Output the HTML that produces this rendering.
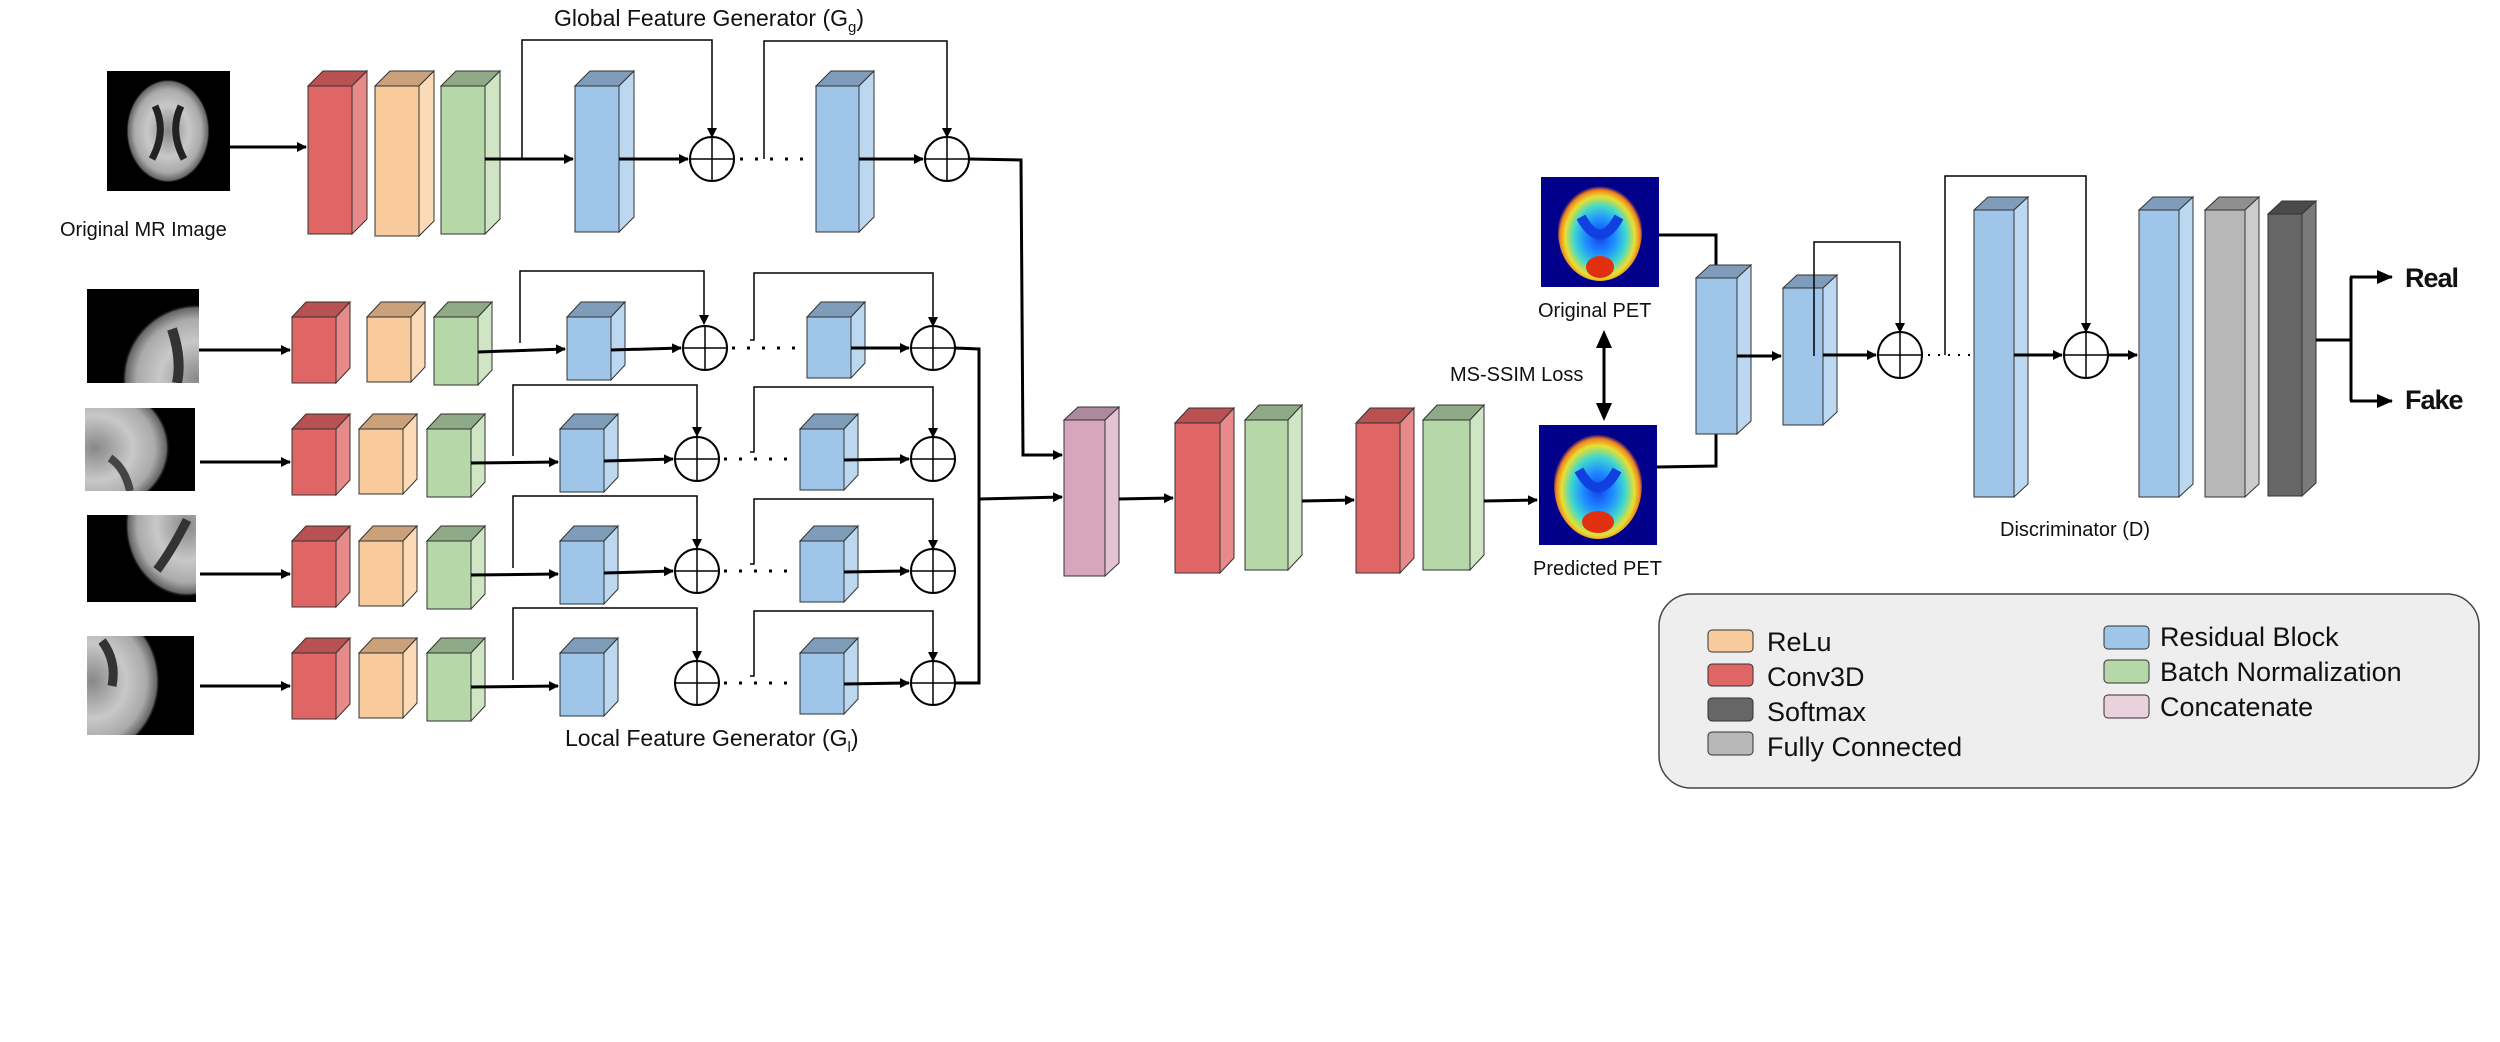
<!DOCTYPE html>
<html><head><meta charset="utf-8"><style>
html,body{margin:0;padding:0;background:#fff}
svg{display:block}
text{font-family:"Liberation Sans",sans-serif;fill:#111}
</style></head><body>
<svg width="2500" height="1042" viewBox="0 0 2500 1042" xmlns="http://www.w3.org/2000/svg">
<defs>
<marker id="ah" markerWidth="10" markerHeight="10" refX="9" refY="5" orient="auto" markerUnits="userSpaceOnUse"><path d="M0,0 L10,5 L0,10 z" fill="#000"/></marker>
<marker id="ahb" markerWidth="16" markerHeight="14" refX="15" refY="7" orient="auto" markerUnits="userSpaceOnUse"><path d="M0,0 L16,7 L0,14 z" fill="#000"/></marker>
<radialGradient id="mr" cx="50%" cy="50%" r="50%"><stop offset="0" stop-color="#888"/><stop offset="0.5" stop-color="#c8c8c8"/><stop offset="0.8" stop-color="#aaa"/><stop offset="0.95" stop-color="#666"/><stop offset="1" stop-color="#000" stop-opacity="0"/></radialGradient>
<radialGradient id="pet" cx="50%" cy="55%" r="52%"><stop offset="0" stop-color="#1040f0"/><stop offset="0.35" stop-color="#2090ff"/><stop offset="0.6" stop-color="#40d8d0"/><stop offset="0.8" stop-color="#e8e030"/><stop offset="0.92" stop-color="#f08020"/><stop offset="1" stop-color="#00008a"/></radialGradient>
</defs>

<!-- ===== GLOBAL ROW ===== -->
<text x="554" y="26" font-size="23">Global  Feature Generator (G<tspan font-size="15" dy="6">g</tspan><tspan dy="-6">)</tspan></text>
<svg x="107" y="71" width="123" height="120"><rect width="123" height="120" fill="#000"/>
<ellipse cx="61" cy="60" rx="42" ry="52" fill="url(#mr)"/>
<path d="M48,35 Q60,60 45,88 M74,35 Q62,60 77,88" stroke="#222" stroke-width="7" fill="none"/></svg>
<text x="60" y="236" font-size="20">Original MR Image</text>
<line x1="230" y1="147" x2="306" y2="147" stroke="#000" stroke-width="3" marker-end="url(#ah)"/>

<g stroke="#333" stroke-width="1">
<polygon points="308,86 323,71 367,71 352,86" fill="#b85252"/><polygon points="352,86 367,71 367,219 352,234" fill="#e88a8a"/><rect x="308" y="86" width="44" height="148" fill="#e06666"/>
<polygon points="375,86 390,71 434,71 419,86" fill="#c9a27c"/><polygon points="419,86 434,71 434,221 419,236" fill="#fbdab8"/><rect x="375" y="86" width="44" height="150" fill="#f9cb9c"/>
<polygon points="441,86 456,71 500,71 485,86" fill="#8faa86"/><polygon points="485,86 500,71 500,219 485,234" fill="#cfe5c4"/><rect x="441" y="86" width="44" height="148" fill="#b6d7a8"/>
<polygon points="575,86 590,71 634,71 619,86" fill="#7f9dbb"/><polygon points="619,86 634,71 634,217 619,232" fill="#bcd7f0"/><rect x="575" y="86" width="44" height="146" fill="#9fc5e8"/>
<polygon points="816,86 831,71 874,71 859,86" fill="#7f9dbb"/><polygon points="859,86 874,71 874,217 859,232" fill="#bcd7f0"/><rect x="816" y="86" width="43" height="146" fill="#9fc5e8"/>
</g>
<g stroke="#000" fill="none">
<line x1="485" y1="159" x2="573" y2="159" stroke-width="3" marker-end="url(#ah)"/>
<polyline points="522,159 522,40 712,40 712,137" stroke-width="1.5" marker-end="url(#ah)"/>
<line x1="619" y1="159" x2="688" y2="159" stroke-width="3" marker-end="url(#ah)"/>
<circle cx="712" cy="159" r="22" stroke-width="2" fill="#fff"/><path d="M690,159 H734 M712,137 V181" stroke-width="1.5"/>
<line x1="740" y1="159" x2="814" y2="159" stroke-width="3" stroke-dasharray="3,12"/>
<polyline points="764,159 764,41 947,41 947,137" stroke-width="1.5" marker-end="url(#ah)"/>
<line x1="859" y1="159" x2="923" y2="159" stroke-width="3" marker-end="url(#ah)"/>
<circle cx="947" cy="159" r="22" stroke-width="2" fill="#fff"/><path d="M925,159 H969 M947,137 V181" stroke-width="1.5"/>
<polyline points="969,159 1021,160 1023,455 1062,455" stroke-width="3" marker-end="url(#ah)"/>
</g>

<!-- ===== LOCAL ROWS images (clipped) ===== -->
<svg x="87" y="289" width="112" height="94"><rect width="112" height="94" fill="#000"/><ellipse cx="110" cy="90" rx="75" ry="75" fill="url(#mr)"/><path d="M85,40 Q95,70 90,94" stroke="#333" stroke-width="10" fill="none"/></svg>
<svg x="85" y="408" width="110" height="83"><rect width="110" height="83" fill="#000"/><ellipse cx="10" cy="40" rx="75" ry="65" fill="url(#mr)"/><path d="M25,50 Q40,60 45,83" stroke="#444" stroke-width="8" fill="none"/></svg>
<svg x="87" y="515" width="109" height="87"><rect width="109" height="87" fill="#000"/><ellipse cx="100" cy="10" rx="62" ry="72" fill="url(#mr)"/><path d="M100,5 Q85,35 70,55" stroke="#333" stroke-width="9" fill="none"/></svg>
<svg x="87" y="636" width="107" height="99"><rect width="107" height="99" fill="#000"/><ellipse cx="5" cy="45" rx="68" ry="75" fill="url(#mr)"/><path d="M15,5 Q30,25 25,50" stroke="#333" stroke-width="9" fill="none"/></svg>

<g stroke="#333" stroke-width="1">
<polygon points="292,317 306,302 350,302 336,317" fill="#b85252"/><polygon points="336,317 350,302 350,368 336,383" fill="#e88a8a"/><rect x="292" y="317" width="44" height="66" fill="#e06666"/>
<polygon points="367,317 381,302 425,302 411,317" fill="#c9a27c"/><polygon points="411,317 425,302 425,367 411,382" fill="#fbdab8"/><rect x="367" y="317" width="44" height="65" fill="#f9cb9c"/>
<polygon points="434,317 448,302 492,302 478,317" fill="#8faa86"/><polygon points="478,317 492,302 492,370 478,385" fill="#cfe5c4"/><rect x="434" y="317" width="44" height="68" fill="#b6d7a8"/>
<polygon points="567,317 581,302 625,302 611,317" fill="#7f9dbb"/><polygon points="611,317 625,302 625,365 611,380" fill="#bcd7f0"/><rect x="567" y="317" width="44" height="63" fill="#9fc5e8"/>
<polygon points="807,317 821,302 865,302 851,317" fill="#7f9dbb"/><polygon points="851,317 865,302 865,363 851,378" fill="#bcd7f0"/><rect x="807" y="317" width="44" height="61" fill="#9fc5e8"/>
</g>
<g stroke="#333" stroke-width="1">
<polygon points="292,429 306,414 350,414 336,429" fill="#b85252"/><polygon points="336,429 350,414 350,480 336,495" fill="#e88a8a"/><rect x="292" y="429" width="44" height="66" fill="#e06666"/>
<polygon points="359,429 373,414 417,414 403,429" fill="#c9a27c"/><polygon points="403,429 417,414 417,479 403,494" fill="#fbdab8"/><rect x="359" y="429" width="44" height="65" fill="#f9cb9c"/>
<polygon points="427,429 441,414 485,414 471,429" fill="#8faa86"/><polygon points="471,429 485,414 485,482 471,497" fill="#cfe5c4"/><rect x="427" y="429" width="44" height="68" fill="#b6d7a8"/>
<polygon points="560,429 574,414 618,414 604,429" fill="#7f9dbb"/><polygon points="604,429 618,414 618,477 604,492" fill="#bcd7f0"/><rect x="560" y="429" width="44" height="63" fill="#9fc5e8"/>
<polygon points="800,429 814,414 858,414 844,429" fill="#7f9dbb"/><polygon points="844,429 858,414 858,475 844,490" fill="#bcd7f0"/><rect x="800" y="429" width="44" height="61" fill="#9fc5e8"/>
</g>
<g stroke="#333" stroke-width="1" transform="translate(0,112)">
<polygon points="292,429 306,414 350,414 336,429" fill="#b85252"/><polygon points="336,429 350,414 350,480 336,495" fill="#e88a8a"/><rect x="292" y="429" width="44" height="66" fill="#e06666"/>
<polygon points="359,429 373,414 417,414 403,429" fill="#c9a27c"/><polygon points="403,429 417,414 417,479 403,494" fill="#fbdab8"/><rect x="359" y="429" width="44" height="65" fill="#f9cb9c"/>
<polygon points="427,429 441,414 485,414 471,429" fill="#8faa86"/><polygon points="471,429 485,414 485,482 471,497" fill="#cfe5c4"/><rect x="427" y="429" width="44" height="68" fill="#b6d7a8"/>
<polygon points="560,429 574,414 618,414 604,429" fill="#7f9dbb"/><polygon points="604,429 618,414 618,477 604,492" fill="#bcd7f0"/><rect x="560" y="429" width="44" height="63" fill="#9fc5e8"/>
<polygon points="800,429 814,414 858,414 844,429" fill="#7f9dbb"/><polygon points="844,429 858,414 858,475 844,490" fill="#bcd7f0"/><rect x="800" y="429" width="44" height="61" fill="#9fc5e8"/>
</g>
<g stroke="#333" stroke-width="1" transform="translate(0,224)">
<polygon points="292,429 306,414 350,414 336,429" fill="#b85252"/><polygon points="336,429 350,414 350,480 336,495" fill="#e88a8a"/><rect x="292" y="429" width="44" height="66" fill="#e06666"/>
<polygon points="359,429 373,414 417,414 403,429" fill="#c9a27c"/><polygon points="403,429 417,414 417,479 403,494" fill="#fbdab8"/><rect x="359" y="429" width="44" height="65" fill="#f9cb9c"/>
<polygon points="427,429 441,414 485,414 471,429" fill="#8faa86"/><polygon points="471,429 485,414 485,482 471,497" fill="#cfe5c4"/><rect x="427" y="429" width="44" height="68" fill="#b6d7a8"/>
<polygon points="560,429 574,414 618,414 604,429" fill="#7f9dbb"/><polygon points="604,429 618,414 618,477 604,492" fill="#bcd7f0"/><rect x="560" y="429" width="44" height="63" fill="#9fc5e8"/>
<polygon points="800,429 814,414 858,414 844,429" fill="#7f9dbb"/><polygon points="844,429 858,414 858,475 844,490" fill="#bcd7f0"/><rect x="800" y="429" width="44" height="61" fill="#9fc5e8"/>
</g>

<g stroke="#000" fill="none">
<line x1="199" y1="350" x2="290" y2="350" stroke-width="3" marker-end="url(#ah)"/>
<line x1="478" y1="352" x2="565" y2="349" stroke-width="3" marker-end="url(#ah)"/>
<polyline points="520,343 520,271 704,271 704,324" stroke-width="1.5" marker-end="url(#ah)"/>
<line x1="611" y1="350" x2="681" y2="348" stroke-width="3" marker-end="url(#ah)"/>
<circle cx="705" cy="348" r="22" stroke-width="2" fill="#fff"/><path d="M683,348 H727 M705,326 V370" stroke-width="1.5"/>
<line x1="732" y1="348" x2="805" y2="348" stroke-width="3" stroke-dasharray="3,12"/>
<polyline points="750,340 754,340 754,273 933,273 933,326" stroke-width="1.5" marker-end="url(#ah)"/>
<line x1="851" y1="348" x2="909" y2="348" stroke-width="3" marker-end="url(#ah)"/>
<circle cx="933" cy="348" r="22" stroke-width="2" fill="#fff"/><path d="M911,348 H955 M933,326 V370" stroke-width="1.5"/>

<line x1="200" y1="462" x2="290" y2="462" stroke-width="3" marker-end="url(#ah)"/>
<line x1="471" y1="463" x2="558" y2="462" stroke-width="3" marker-end="url(#ah)"/>
<polyline points="513,456 513,385 697,385 697,436" stroke-width="1.5" marker-end="url(#ah)"/>
<line x1="604" y1="461" x2="673" y2="459" stroke-width="3" marker-end="url(#ah)"/>
<circle cx="697" cy="459" r="22" stroke-width="2" fill="#fff"/><path d="M675,459 H719 M697,437 V481" stroke-width="1.5"/>
<line x1="724" y1="459" x2="798" y2="459" stroke-width="3" stroke-dasharray="3,12"/>
<polyline points="750,452 754,452 754,387 933,387 933,437" stroke-width="1.5" marker-end="url(#ah)"/>
<line x1="844" y1="460" x2="909" y2="459" stroke-width="3" marker-end="url(#ah)"/>
<circle cx="933" cy="459" r="22" stroke-width="2" fill="#fff"/><path d="M911,459 H955 M933,437 V481" stroke-width="1.5"/>

<line x1="200" y1="574" x2="290" y2="574" stroke-width="3" marker-end="url(#ah)"/>
<line x1="471" y1="575" x2="558" y2="574" stroke-width="3" marker-end="url(#ah)"/>
<polyline points="513,568 513,496 697,496 697,548" stroke-width="1.5" marker-end="url(#ah)"/>
<line x1="604" y1="573" x2="673" y2="571" stroke-width="3" marker-end="url(#ah)"/>
<circle cx="697" cy="571" r="22" stroke-width="2" fill="#fff"/><path d="M675,571 H719 M697,549 V593" stroke-width="1.5"/>
<line x1="724" y1="571" x2="798" y2="571" stroke-width="3" stroke-dasharray="3,12"/>
<polyline points="750,564 754,564 754,499 933,499 933,549" stroke-width="1.5" marker-end="url(#ah)"/>
<line x1="844" y1="572" x2="909" y2="571" stroke-width="3" marker-end="url(#ah)"/>
<circle cx="933" cy="571" r="22" stroke-width="2" fill="#fff"/><path d="M911,571 H955 M933,549 V593" stroke-width="1.5"/>

<line x1="200" y1="686" x2="290" y2="686" stroke-width="3" marker-end="url(#ah)"/>
<line x1="471" y1="687" x2="558" y2="686" stroke-width="3" marker-end="url(#ah)"/>
<polyline points="513,680 513,608 697,608 697,660" stroke-width="1.5" marker-end="url(#ah)"/>
<circle cx="697" cy="683" r="22" stroke-width="2" fill="#fff"/><path d="M675,683 H719 M697,661 V705" stroke-width="1.5"/>
<line x1="724" y1="683" x2="798" y2="683" stroke-width="3" stroke-dasharray="3,12"/>
<polyline points="750,676 754,676 754,611 933,611 933,661" stroke-width="1.5" marker-end="url(#ah)"/>
<line x1="844" y1="684" x2="909" y2="683" stroke-width="3" marker-end="url(#ah)"/>
<circle cx="933" cy="683" r="22" stroke-width="2" fill="#fff"/><path d="M911,683 H955 M933,661 V705" stroke-width="1.5"/>

<polyline points="955,348 979,349 979,683 955,683" stroke-width="3"/>
<line x1="979" y1="499" x2="1062" y2="497" stroke-width="3" marker-end="url(#ah)"/>
</g>
<text x="565" y="746" font-size="23">Local  Feature Generator (G<tspan font-size="15" dy="6">l</tspan><tspan dy="-6">)</tspan></text>

<!-- ===== CENTER ===== -->
<g stroke="#333" stroke-width="1">
<polygon points="1064,420 1078,407 1119,407 1105,420" fill="#ad8a9b"/><polygon points="1105,420 1119,407 1119,563 1105,576" fill="#e3c3d2"/><rect x="1064" y="420" width="41" height="156" fill="#d5a6bd"/>
<polygon points="1175,423 1189,408 1234,408 1220,423" fill="#b85252"/><polygon points="1220,423 1234,408 1234,558 1220,573" fill="#e88a8a"/><rect x="1175" y="423" width="45" height="150" fill="#e06666"/>
<polygon points="1245,420 1259,405 1302,405 1288,420" fill="#8faa86"/><polygon points="1288,420 1302,405 1302,555 1288,570" fill="#cfe5c4"/><rect x="1245" y="420" width="43" height="150" fill="#b6d7a8"/>
<polygon points="1356,423 1370,408 1414,408 1400,423" fill="#b85252"/><polygon points="1400,423 1414,408 1414,558 1400,573" fill="#e88a8a"/><rect x="1356" y="423" width="44" height="150" fill="#e06666"/>
<polygon points="1423,420 1437,405 1484,405 1470,420" fill="#8faa86"/><polygon points="1470,420 1484,405 1484,555 1470,570" fill="#cfe5c4"/><rect x="1423" y="420" width="47" height="150" fill="#b6d7a8"/>
</g>
<g stroke="#000" fill="none" stroke-width="3">
<line x1="1119" y1="499" x2="1173" y2="498" marker-end="url(#ah)"/>
<line x1="1302" y1="501" x2="1354" y2="500" marker-end="url(#ah)"/>
<line x1="1484" y1="501" x2="1537" y2="500" marker-end="url(#ah)"/>
</g>

<!-- PET images -->
<svg x="1541" y="177" width="118" height="110"><rect width="118" height="110" fill="#00008a"/>
<ellipse cx="59" cy="55" rx="42" ry="49" fill="url(#pet)"/>
<path d="M40,40 Q59,75 78,40" stroke="#1040e0" stroke-width="10" fill="none"/>
<ellipse cx="59" cy="90" rx="14" ry="11" fill="#e03010"/></svg>
<svg x="1539" y="425" width="118" height="120"><rect width="118" height="120" fill="#00008a"/>
<ellipse cx="59" cy="60" rx="44" ry="54" fill="url(#pet)"/>
<path d="M40,45 Q59,80 78,45" stroke="#1040e0" stroke-width="10" fill="none"/>
<ellipse cx="59" cy="97" rx="16" ry="11" fill="#e03010"/></svg>
<text x="1538" y="317" font-size="20">Original PET</text>
<text x="1533" y="575" font-size="20">Predicted PET</text>
<text x="1450" y="381" font-size="20">MS-SSIM  Loss</text>
<line x1="1604" y1="345" x2="1604" y2="407" stroke="#000" stroke-width="3"/>
<path d="M1604,330 L1596,348 L1612,348 z M1604,421 L1596,403 L1612,403 z" fill="#000"/>

<!-- ===== DISCRIMINATOR ===== -->
<g stroke="#000" fill="none" stroke-width="3">
<polyline points="1659,235 1716,235 1716,265"/>
<polyline points="1657,467 1716,466 1716,434"/>
</g>
<g stroke="#333" stroke-width="1">
<polygon points="1696,278 1710,265 1751,265 1737,278" fill="#7f9dbb"/><polygon points="1737,278 1751,265 1751,421 1737,434" fill="#bcd7f0"/><rect x="1696" y="278" width="41" height="156" fill="#9fc5e8"/>
<polygon points="1783,288 1797,275 1837,275 1823,288" fill="#7f9dbb"/><polygon points="1823,288 1837,275 1837,412 1823,425" fill="#bcd7f0"/><rect x="1783" y="288" width="40" height="137" fill="#9fc5e8"/>
<polygon points="1974,210 1988,197 2028,197 2014,210" fill="#7f9dbb"/><polygon points="2014,210 2028,197 2028,484 2014,497" fill="#bcd7f0"/><rect x="1974" y="210" width="40" height="287" fill="#9fc5e8"/>
<polygon points="2139,210 2153,197 2193,197 2179,210" fill="#7f9dbb"/><polygon points="2179,210 2193,197 2193,484 2179,497" fill="#bcd7f0"/><rect x="2139" y="210" width="40" height="287" fill="#9fc5e8"/>
<polygon points="2205,210 2219,197 2259,197 2245,210" fill="#8f8f8f"/><polygon points="2245,210 2259,197 2259,484 2245,497" fill="#cccccc"/><rect x="2205" y="210" width="40" height="287" fill="#b7b7b7"/>
<polygon points="2268,214 2282,201 2316,201 2302,214" fill="#4a4a4a"/><polygon points="2302,214 2316,201 2316,483 2302,496" fill="#7a7a7a"/><rect x="2268" y="214" width="34" height="282" fill="#666666"/>
</g>
<g stroke="#000" fill="none">
<line x1="1737" y1="356" x2="1781" y2="356" stroke-width="3" marker-end="url(#ah)"/>
<polyline points="1814,356 1814,242 1900,242 1900,332" stroke-width="1.5" marker-end="url(#ah)"/>
<line x1="1823" y1="355" x2="1876" y2="355" stroke-width="3" marker-end="url(#ah)"/>
<ellipse cx="1900" cy="355" rx="22" ry="23" stroke-width="2" fill="#fff"/><path d="M1878,355 H1922 M1900,332 V378" stroke-width="1.5"/>
<line x1="1928" y1="355" x2="1972" y2="355" stroke-width="2" stroke-dasharray="2,8"/>
<polyline points="1945,355 1945,176 2086,176 2086,332" stroke-width="1.5" marker-end="url(#ah)"/>
<line x1="2014" y1="355" x2="2062" y2="355" stroke-width="3" marker-end="url(#ah)"/>
<ellipse cx="2086" cy="355" rx="22" ry="23" stroke-width="2" fill="#fff"/><path d="M2064,355 H2108 M2086,332 V378" stroke-width="1.5"/>
<line x1="2108" y1="355" x2="2137" y2="355" stroke-width="3" marker-end="url(#ah)"/>
<line x1="2316" y1="340" x2="2351" y2="340" stroke-width="3"/>
<polyline points="2351,277 2351,401" stroke-width="3"/>
<line x1="2350" y1="277" x2="2392" y2="277" stroke-width="3" marker-end="url(#ahb)"/>
<line x1="2350" y1="401" x2="2392" y2="401" stroke-width="3" marker-end="url(#ahb)"/>
</g>
<text x="2405" y="287" font-size="27" font-weight="bold" letter-spacing="-1">Real</text>
<text x="2405" y="409" font-size="27" font-weight="bold" letter-spacing="-1">Fake</text>
<text x="2000" y="536" font-size="20">Discriminator (D)</text>

<!-- ===== LEGEND ===== -->
<rect x="1659" y="594" width="820" height="194" rx="32" fill="#eeeeee" stroke="#444" stroke-width="1.5"/>
<g stroke="#333" stroke-width="1">
<rect x="1708" y="630" width="45" height="22" rx="4" fill="#f9cb9c"/>
<rect x="1708" y="664" width="45" height="22" rx="4" fill="#e06666"/>
<rect x="1708" y="698" width="45" height="23" rx="4" fill="#666666"/>
<rect x="1708" y="732" width="45" height="23" rx="4" fill="#b7b7b7"/>
<rect x="2104" y="626" width="45" height="23" rx="4" fill="#9fc5e8"/>
<rect x="2104" y="660" width="45" height="23" rx="4" fill="#b6d7a8"/>
<rect x="2104" y="695" width="45" height="23" rx="4" fill="#ead1dc"/>
</g>
<g font-size="27">
<text x="1767" y="651">ReLu</text>
<text x="1767" y="686">Conv3D</text>
<text x="1767" y="721">Softmax</text>
<text x="1767" y="756">Fully Connected</text>
<text x="2160" y="646">Residual Block</text>
<text x="2160" y="681">Batch Normalization</text>
<text x="2160" y="716">Concatenate</text>
</g>
</svg>
</body></html>
